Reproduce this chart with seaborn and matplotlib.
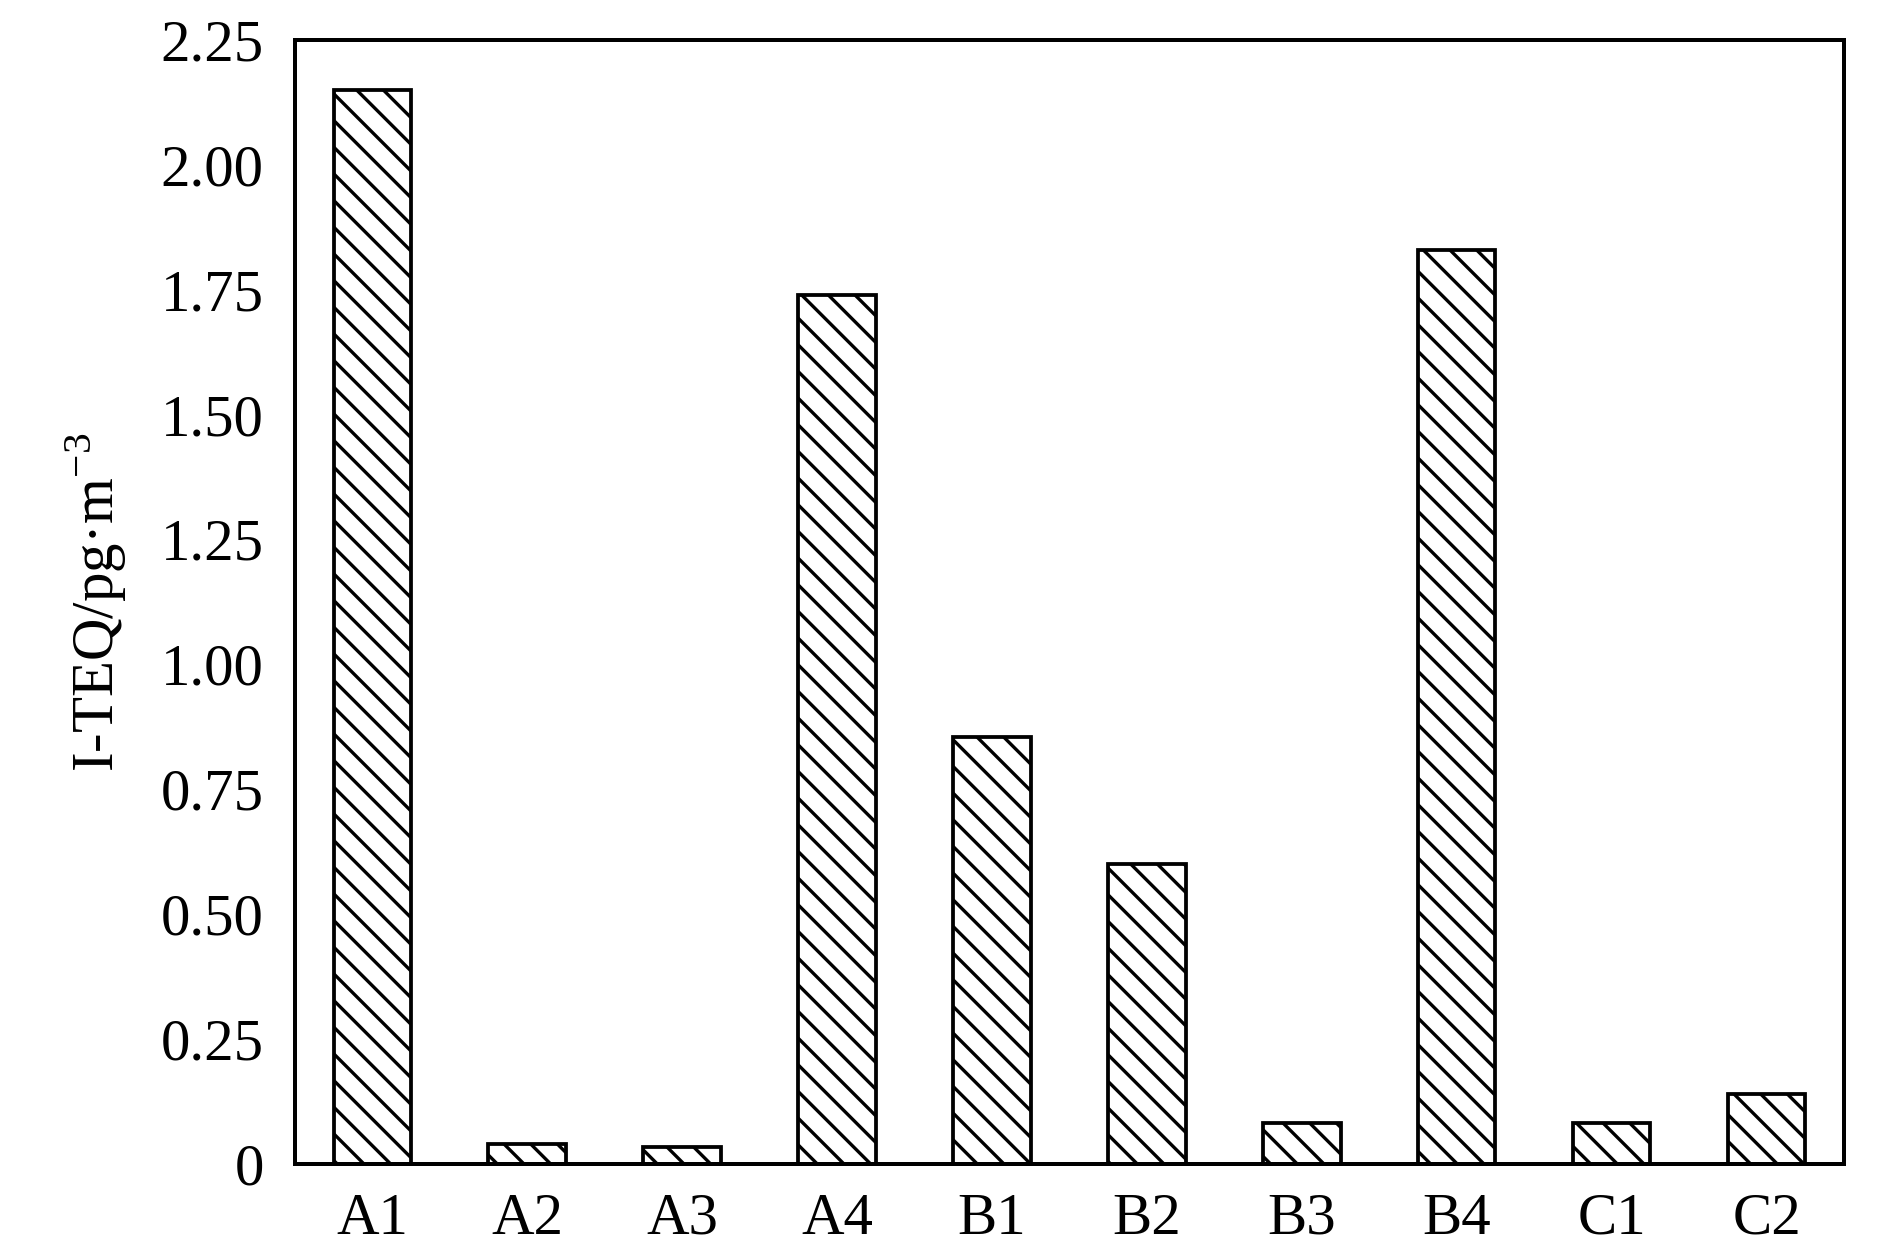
import numpy as np
import pandas as pd
import matplotlib
matplotlib.use("Agg")
import matplotlib.pyplot as plt
import seaborn as sns

# valori
categorie = ["A1", "A2", "A3", "A4", "B1", "B2", "B3", "B4", "C1", "C2"]
teq = [2.15, 0.039, 0.034, 1.74, 0.854, 0.60, 0.082, 1.83, 0.082, 0.14]
yticks = [0, 0.25, 0.50, 0.75, 1.00, 1.25, 1.50, 1.75, 2.00, 2.25]
ytick_labels = ["0", "0.25", "0.50", "0.75", "1.00", "1.25", "1.50", "1.75", "2.00", "2.25"]

df = pd.DataFrame({"campione": categorie, "teq": teq})

sns.set_style("white")
plt.rcParams["font.family"] = ["Liberation Serif", "DejaVu Serif"]
plt.rcParams["mathtext.fontset"] = "custom"
plt.rcParams["mathtext.rm"] = "Liberation Serif"
plt.rcParams["hatch.linewidth"] = 1.5
plt.rcParams["text.color"] = "black"
plt.rcParams["axes.labelcolor"] = "black"
plt.rcParams["xtick.color"] = "black"
plt.rcParams["ytick.color"] = "black"

fig = plt.figure(figsize=(11.8125, 7.8375), dpi=160)
ax = fig.add_axes([0.156, 0.072, 0.8197, 0.896])

sns.barplot(data=df, x="campione", y="teq", color="white", saturation=1,
            edgecolor="black", linewidth=1.7, width=0.5, ax=ax)
for p in ax.patches:
    p.set_hatch("\\\\")

ax.set_xlim(-0.5, 9.5)
ax.set_ylim(0, 2.25)
ax.set_yticks(yticks)
ax.set_yticklabels(ytick_labels)
ax.tick_params(axis="y", direction="in", length=10, width=1.8, labelsize=26.5, pad=14, right=False)
ax.tick_params(axis="x", length=0, labelsize=26.5, pad=13)
ax.set_xlabel("")
ax.set_ylabel("I-TEQ/pg·m$^{-3}$", fontsize=26.5, labelpad=14)

for s in ax.spines.values():
    s.set_visible(True)
    s.set_color("black")
    s.set_linewidth(1.8)

fig.savefig("out.png", dpi=160)
